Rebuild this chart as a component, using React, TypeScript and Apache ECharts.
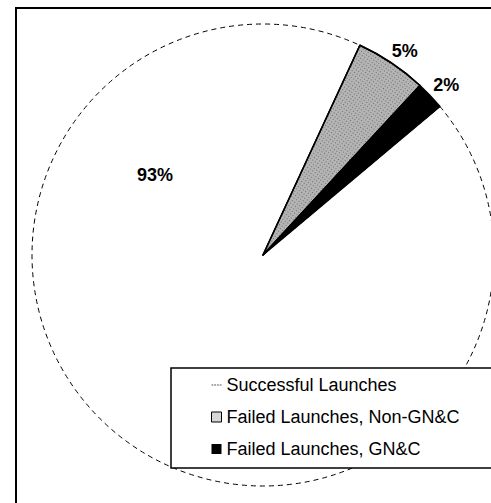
import React, { useEffect, useRef } from "react";
import * as echarts from "echarts";

const categories = [
  "Successful Launches",
  "Failed Launches, Non-GN&C",
  "Failed Launches, GN&C",
];
const shares = [93, 5, 2];
const sliceColors = ["#ffffff", "#b4b4b4", "#000000"];

export default function App() {
  const ref = useRef<HTMLDivElement>(null);
  useEffect(() => {
    if (!ref.current) return;
    const chart = echarts.init(ref.current, undefined, { renderer: "svg" });
    const font = "'Liberation Sans', Arial, sans-serif";
    const data = categories.map((name, i) => {
      const base: any = {
        name,
        value: shares[i],
        itemStyle: {
          color: sliceColors[i],
          borderColor: "#000",
          borderWidth: i === 0 ? 1 : 1.5,
          borderType: i === 0 ? [5, 4] : "solid",
        },
      };
      if (i === 1) {
        base.itemStyle.decal = {
          symbol: "rect",
          symbolSize: 1,
          color: "rgba(0,0,0,0.4)",
          dashArrayX: [1, 2],
          dashArrayY: [1, 2],
          rotation: 0.6,
        };
      }
      return base;
    });
    chart.setOption({
      animation: false,
      backgroundColor: "#fff",
      graphic: [
        {
          type: "polyline",
          shape: { points: [[16, 503], [16, 8], [491, 8]] },
          style: { fill: null, stroke: "#000", lineWidth: 2 },
          z: 0,
        },
        {
          type: "rect",
          shape: { x: 171, y: 368, width: 330, height: 100 },
          style: { fill: "#fff", stroke: null },
          z: 3,
        },
        {
          type: "polyline",
          shape: { points: [[491, 368], [171, 368], [171, 468], [491, 468]] },
          style: { fill: null, stroke: "#000", lineWidth: 1.5 },
          z: 3,
        },
      ],
      legend: {
        orient: "vertical",
        left: 171,
        top: 368,
        padding: [8, 10, 11, 40],
        itemGap: 14,
        itemWidth: 10,
        itemHeight: 10,
        z: 5,
        textStyle: { fontFamily: font, fontSize: 18, color: "#000" },
        data: [
          {
            name: categories[0],
            icon: "path://M0,0h2v1h-2zM3,0h2v1h-2zM6,0h2v1h-2zM9,0h2v1h-2z",
            itemStyle: { color: "#555", borderWidth: 0 },
          },
          {
            name: categories[1],
            icon: "rect",
            itemStyle: { color: "#d8d8d8", borderColor: "#000", borderWidth: 1, decal: "none" },
          },
          {
            name: categories[2],
            icon: "rect",
            itemStyle: { color: "#000", borderWidth: 0 },
          },
        ],
      },
      series: [
        {
          type: "pie",
          center: [263, 255],
          radius: 231,
          startAngle: 40,
          clockwise: true,
          silent: true,
          label: {
            show: true,
            position: "outside",
            formatter: "{c}%",
            fontFamily: font,
            fontWeight: "bold",
            fontSize: 18,
            color: "#000",
          },
          labelLine: { show: false, length: 15, length2: 0 },
          labelLayout: (p: any) =>
            p.dataIndex === 0
              ? { x: 155, y: 175, align: "center", verticalAlign: "middle" }
              : { align: "center", verticalAlign: "middle" },
          data,
        },
      ],
    });
    return () => chart.dispose();
  }, []);
  return (
    <div
      ref={ref}
      style={{ position: "fixed", left: 0, top: 0, width: 491, height: 503 }}
    />
  );
}
